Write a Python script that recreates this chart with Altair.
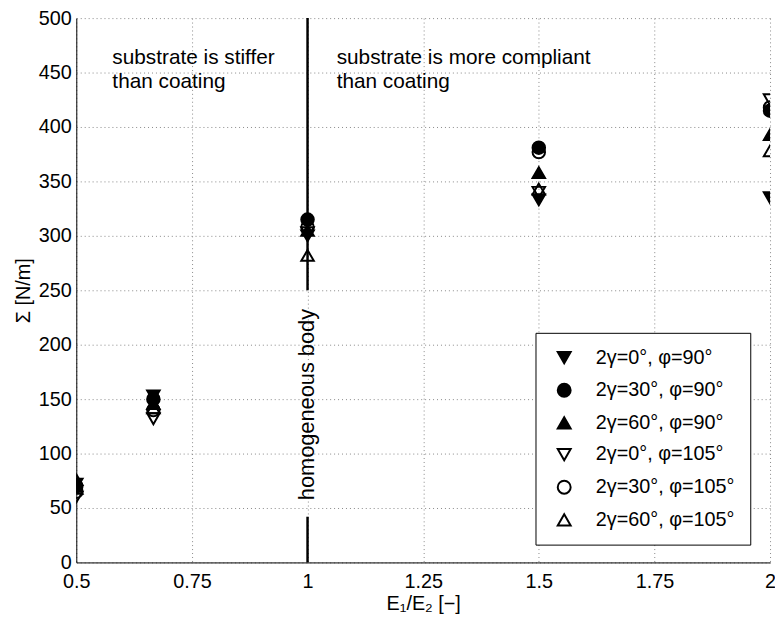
import altair as alt
import pandas as pd

# ---- data ----
ratios = [0.5, 0.6667, 1.0, 1.5, 2.0]
series_names = [
    "2γ=0°, φ=90°",
    "2γ=30°, φ=90°",
    "2γ=60°, φ=90°",
    "2γ=0°, φ=105°",
    "2γ=30°, φ=105°",
    "2γ=60°, φ=105°",
]
g0_p90 = [72, 153, 300, 333, 335]
g30_p90 = [70, 150, 315, 381, 415]
g60_p90 = [76, 146, 305, 358, 393]
g0_p105 = [60, 132, 303, 340, 425]
g30_p105 = [65, 140, 308, 377, 418]
g60_p105 = [68, 142, 282, 343, 378]
series_values = [g0_p90, g30_p90, g60_p90, g0_p105, g30_p105, g60_p105]

shapes = ["triangle-down", "circle", "triangle-up", "triangle-down", "circle", "triangle-up"]
fills = ["black", "black", "black", "transparent", "transparent", "transparent"]
strokes = ["black"] * 6

x_ticks = [0.5, 0.75, 1, 1.25, 1.5, 1.75, 2]
y_ticks = [0, 50, 100, 150, 200, 250, 300, 350, 400, 450, 500]

# homogeneous-body line (broken around its label)
line_from = [0, 250]
line_to = [42, 500]

rows = []
for name, vals in zip(series_names, series_values):
    for x, y in zip(ratios, vals):
        rows.append({"ratio": x, "sigma": y, "series": name})
pts = pd.DataFrame(rows)

seg = pd.DataFrame({"x": [1.0, 1.0], "y0": line_from, "y1": line_to})

FONT = "Liberation Sans"
FS = 20

x_scale = alt.Scale(domain=[0.5, 2], nice=False, zero=False)
y_scale = alt.Scale(domain=[0, 500], nice=False)

x_axis = alt.Axis(values=x_ticks, labelExpr="datum.value", title="E₁/E₂ [−]",
                  labelFontSize=FS, titleFontSize=FS, labelPadding=9,
                  titlePadding=3, grid=True, labelFlush=False)
y_axis = alt.Axis(values=y_ticks, title="Σ [N/m]", labelFontSize=FS,
                  titleFontSize=FS, labelPadding=5, titlePadding=5, grid=True)

rule = alt.Chart(seg).mark_rule(color="black", strokeWidth=2.5).encode(
    x=alt.X("x:Q", scale=x_scale, axis=x_axis),
    y=alt.Y("y0:Q", scale=y_scale, axis=y_axis),
    y2="y1:Q",
)

legend = alt.Legend(title=None, orient="none", legendX=464, legendY=318,
                    strokeColor="black", fillColor="white",
                    padding=15, labelFontSize=FS, labelFont=FONT,
                    symbolSize=170, symbolStrokeWidth=2, symbolOffset=4,
                    labelOffset=22, rowPadding=12, labelColor="black")

points = alt.Chart(pts).mark_point(size=160, strokeWidth=2, opacity=1,
                                   clip=True).encode(
    x=alt.X("ratio:Q", scale=x_scale),
    y=alt.Y("sigma:Q", scale=y_scale),
    shape=alt.Shape("series:N", sort=series_names,
                    scale=alt.Scale(domain=series_names, range=shapes),
                    legend=legend),
    fill=alt.Fill("series:N", sort=series_names,
                  scale=alt.Scale(domain=series_names, range=fills), legend=legend),
    stroke=alt.Stroke("series:N", sort=series_names,
                      scale=alt.Scale(domain=series_names, range=strokes), legend=legend),
)

ann_df = pd.DataFrame({
    "x": [0.578, 1.063],
    "y": [473, 473],
    "t": ["substrate is stiffer\nthan coating", "substrate is more compliant\nthan coating"],
})
ann = alt.Chart(ann_df).mark_text(align="left", baseline="top", fontSize=21,
                                  font=FONT, lineBreak="\n", lineHeight=24,
                                  color="black").encode(
    x=alt.X("x:Q", scale=x_scale), y=alt.Y("y:Q", scale=y_scale), text="t:N")

hom_df = pd.DataFrame({"x": [1.0], "y": [145], "t": ["homogeneous body"]})
hom = alt.Chart(hom_df).mark_text(angle=270, align="center", baseline="middle",
                                  fontSize=22, font=FONT, color="black").encode(
    x=alt.X("x:Q", scale=x_scale), y=alt.Y("y:Q", scale=y_scale), text="t:N")

chart = alt.layer(rule, points, ann, hom).properties(
    width=701, height=550,
    autosize=alt.AutoSizeParams(type="none"),
    padding={"left": 69, "top": 7, "right": 5, "bottom": 60},
).configure(font=FONT).configure_view(stroke=None).configure_axis(
    domainColor="black", domainWidth=1, labelColor="black", titleColor="black",
    gridColor="#888", gridDash=[1, 3], gridWidth=1, ticks=False,
    labelFont=FONT, titleFont=FONT, titleFontWeight="normal",
)

chart.save("out.html", embed_options={"renderer": "svg", "actions": False})
